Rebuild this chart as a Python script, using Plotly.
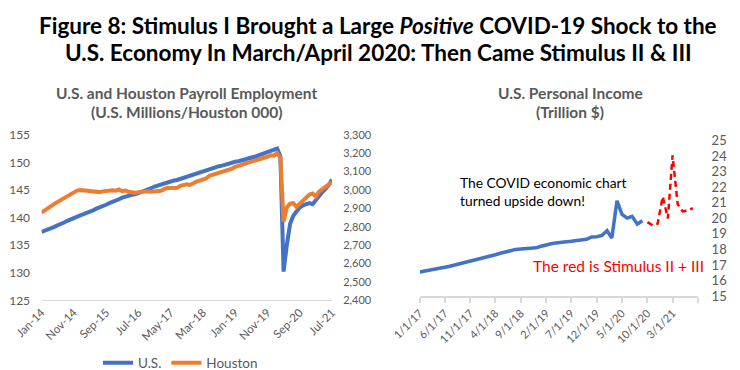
import pandas as pd
import plotly.graph_objects as go

# ---------------- Left chart data: U.S. and Houston payroll employment ----------------
emp_months = pd.date_range("2014-01-01", "2021-07-01", freq="MS")
emp_labels = [d.strftime("%b-%y") for d in emp_months]
emp_tick_labels = ["Jan-14", "Nov-14", "Sep-15", "Jul-16", "May-17", "Mar-18",
                   "Jan-19", "Nov-19", "Sep-20", "Jul-21"]

us_payroll = [  # millions
    137.4, 137.6, 137.8, 138.1, 138.3, 138.6, 138.8, 139.1, 139.4, 139.7,
    139.9, 140.2, 140.4, 140.6, 140.8, 141.1, 141.3, 141.6, 141.8, 142.1,
    142.3, 142.6, 142.8, 143.1, 143.3, 143.6, 143.8, 143.9, 144.1, 144.2,
    144.4, 144.6, 144.8, 145.0, 145.3, 145.6, 145.8, 146.0, 146.2, 146.4,
    146.5, 146.7, 146.8, 147.0, 147.2, 147.3, 147.6, 147.8, 148.0, 148.2,
    148.4, 148.5, 148.7, 148.9, 149.1, 149.3, 149.4, 149.6, 149.8, 149.9,
    150.1, 150.2, 150.3, 150.5, 150.7, 150.8, 151.0, 151.2, 151.4, 151.6,
    151.8, 152.0, 152.2, 152.5, 151.1, 130.2, 135.0, 138.8, 140.3, 141.2,
    141.8, 142.2, 142.5, 142.6, 142.4, 143.2, 143.9, 144.6, 145.2, 145.9,
    146.9,
]
houston_payroll = [  # thousands
    2877, 2890, 2902, 2913, 2924, 2935, 2945, 2955, 2966, 2977,
    2988, 2996, 2999, 2997, 2994, 2991, 2988, 2985, 2988, 2992,
    2995, 2993, 2998, 2996, 3002, 2993, 2996, 2990, 2987, 2984,
    2988, 2990, 2989, 2992, 2990, 2993, 2992, 2995, 3004, 3012,
    3010, 3013, 3011, 3022, 3028, 3030, 3027, 3039, 3045, 3050,
    3058, 3062, 3077, 3082, 3088, 3095, 3100, 3106, 3112, 3116,
    3125, 3128, 3136, 3143, 3148, 3152, 3160, 3164, 3170, 3176,
    3180, 3188, 3186, 3200, 3175, 2826, 2905, 2925, 2928, 2908,
    2925, 2945, 2960, 2975, 2980, 2963, 2990, 3005, 3017, 3030,
    3042,
]

# ---------------- Right chart data: U.S. personal income ----------------
inc_months_actual = pd.date_range("2017-01-01", "2020-09-01", freq="MS")
inc_months_stim = pd.date_range("2020-10-01", "2021-07-01", freq="MS")
income_actual = [  # trillion $
    16.55, 16.60, 16.66, 16.72, 16.78, 16.85, 16.92, 17.00, 17.07, 17.14,
    17.22, 17.30, 17.40, 17.50, 17.58, 17.66, 17.75, 17.85, 17.95, 18.00,
    18.02, 18.05, 18.08, 18.10, 18.20, 18.30, 18.36, 18.42, 18.48, 18.50,
    18.53, 18.56, 18.60, 18.65, 18.80, 18.82, 18.90, 19.20, 18.73, 21.13,
    20.25, 20.02, 20.13, 19.63, 19.84,
]
income_stimulus = [19.76, 19.55, 19.65, 21.40, 20.00, 24.05, 20.90, 20.45, 20.50, 20.66]
inc_tick_dates = ["2017-01-01", "2017-06-01", "2017-11-01", "2018-04-01", "2018-09-01",
                  "2019-02-01", "2019-07-01", "2019-12-01", "2020-05-01", "2020-10-01",
                  "2021-03-01", "2021-08-01"]
inc_tick_labels = ["1/1/17", "6/1/17", "11/1/17", "4/1/18", "9/1/18", "2/1/19",
                   "7/1/19", "12/1/19", "5/1/20", "10/1/20", "3/1/21", ""]

BLUE = "#4472C4"
ORANGE = "#ED7D31"
GRAY = "#595959"
AXIS = "#D9D9D9"
FONT = "Lato"

fig = go.Figure()

fig.add_trace(go.Scatter(x=emp_labels, y=us_payroll, name="U.S.", mode="lines",
                         line=dict(color=BLUE, width=4), xaxis="x", yaxis="y"))
fig.add_trace(go.Scatter(x=emp_labels, y=houston_payroll, name="Houston", mode="lines",
                         line=dict(color=ORANGE, width=4), xaxis="x", yaxis="y2"))
fig.add_trace(go.Scatter(x=inc_months_actual, y=income_actual, mode="lines", showlegend=False,
                         line=dict(color=BLUE, width=3.5), xaxis="x2", yaxis="y3"))
fig.add_trace(go.Scatter(x=inc_months_stim, y=income_stimulus, mode="lines", showlegend=False,
                         line=dict(color="#FF0000", width=2.5, dash="6px,4px"),
                         xaxis="x2", yaxis="y3"))

W, H = 740, 370
def px_x(p):
    return p / W
def px_y(p):
    return 1 - p / H

tickfont = dict(family=FONT, size=12, color=GRAY)

fig.update_layout(
    width=W, height=H,
    margin=dict(l=0, r=0, t=0, b=0, autoexpand=False),
    paper_bgcolor="white", plot_bgcolor="white",
    font=dict(family=FONT, color=GRAY),
    xaxis=dict(domain=[px_x(33.5), px_x(324)], anchor="y", type="category",
               range=[0, len(emp_labels) - 1], tickmode="array",
               tickvals=emp_tick_labels, ticktext=emp_tick_labels, tickangle=-45,
               tickfont=dict(family=FONT, size=11.5, color=GRAY), automargin=False,
               showline=True, linecolor=AXIS, linewidth=1, showgrid=False,
               ticks="", zeroline=False),
    yaxis=dict(domain=[px_y(292.3), px_y(126.7)], anchor="x", range=[125, 155],
               dtick=5, tick0=125, showgrid=False, zeroline=False, showline=False,
               automargin=False,
               ticks="outside", ticklen=8, tickcolor="rgba(0,0,0,0)", tickfont=tickfont),
    yaxis2=dict(overlaying="y", side="right", anchor="x", range=[2400, 3300],
                dtick=100, tick0=2400, showgrid=False, zeroline=False, showline=False,
                automargin=False,
                tickformat=",d", ticks="outside", ticklen=8, tickcolor="rgba(0,0,0,0)",
                tickfont=dict(family=FONT, size=11, color=GRAY)),
    xaxis2=dict(domain=[px_x(411.7), px_x(690)], anchor="y3", type="date",
                range=["2017-01-01", "2021-08-01"], tickmode="array",
                tickvals=inc_tick_dates, ticktext=inc_tick_labels, tickangle=-45,
                tickfont=dict(family=FONT, size=11, color=GRAY), automargin=False,
                showline=True, linecolor=AXIS, linewidth=1.5, showgrid=False,
                ticks="outside", ticklen=5, tickcolor=AXIS, tickwidth=1.5, zeroline=False),
    yaxis3=dict(domain=[px_y(288), px_y(132.7)], anchor="x2", side="right",
                range=[15, 25], dtick=1, tick0=15, showgrid=False, zeroline=False,
                showline=False, ticks="outside", ticklen=10, tickcolor="rgba(0,0,0,0)",
                automargin=False,
                tickfont=dict(family=FONT, size=13, color=GRAY)),
    legend=dict(orientation="h", x=px_x(90), y=px_y(355), xanchor="left", yanchor="middle",
                font=dict(family=FONT, size=13.5, color=GRAY), itemwidth=30,
                bgcolor="rgba(0,0,0,0)"),
    showlegend=True,
)

annotations = [
    dict(text="<b>Figure 8: Stimulus I Brought a Large <i>Positive</i> COVID-19 Shock to the</b>",
         x=0.5, y=px_y(17.5), xanchor="center", yanchor="middle",
         font=dict(family=FONT, size=22.5, color="black"), showarrow=False),
    dict(text="<b>U.S. Economy In March/April 2020: Then Came Stimulus II &amp; III</b>",
         x=0.5, y=px_y(44.5), xanchor="center", yanchor="middle",
         font=dict(family=FONT, size=22.5, color="black"), showarrow=False),
    dict(text="<b>U.S. and Houston Payroll Employment</b>",
         x=px_x(178), y=px_y(85), xanchor="center", yanchor="middle",
         font=dict(family=FONT, size=15.5, color=GRAY), showarrow=False),
    dict(text="<b>(U.S. Millions/Houston 000)</b>",
         x=px_x(178), y=px_y(104), xanchor="center", yanchor="middle",
         font=dict(family=FONT, size=15.5, color=GRAY), showarrow=False),
    dict(text="<b>U.S. Personal Income</b>",
         x=px_x(562), y=px_y(85), xanchor="center", yanchor="middle",
         font=dict(family=FONT, size=15.5, color=GRAY), showarrow=False),
    dict(text="<b>(Trillion $)</b>",
         x=px_x(562), y=px_y(104), xanchor="center", yanchor="middle",
         font=dict(family=FONT, size=15.5, color=GRAY), showarrow=False),
    dict(text="The COVID economic chart<br>turned upside down!",
         x=px_x(450), y=px_y(183.5), xanchor="left", yanchor="middle", align="left",
         font=dict(family=FONT, size=13.8, color="black"), showarrow=False),
    dict(text="The red is Stimulus II + III",
         x=px_x(698), y=px_y(258), xanchor="right", yanchor="middle",
         font=dict(family=FONT, size=15.5, color="#FF0000"), showarrow=False),
]
for a in annotations:
    a.update(xref="paper", yref="paper")
fig.update_layout(annotations=annotations)

fig.write_html("out.html")
